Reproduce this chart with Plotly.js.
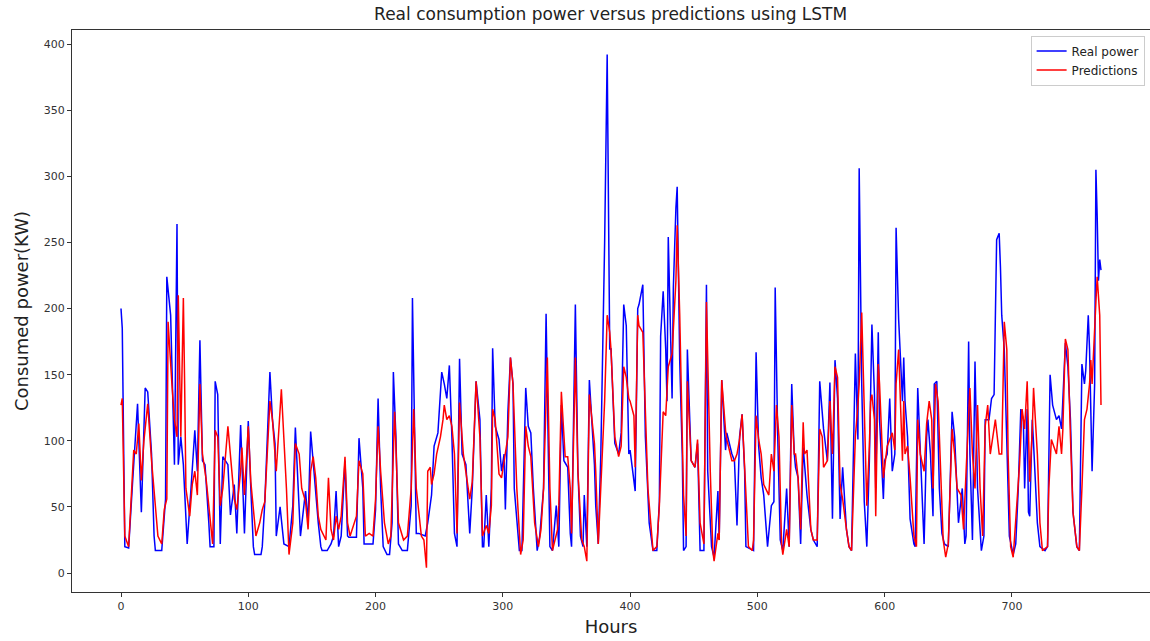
<!DOCTYPE html>
<html>
<head>
<meta charset="utf-8">
<script src="https://cdn.plot.ly/plotly-3.0.1.min.js"></script>
<style>html,body{margin:0;padding:0;background:#fff;}#chart{width:1150px;height:641px;}</style>
</head>
<body>
<div id="chart"></div>
<script>
// Hours (x) and values
const realHours = [0,1,3,6,9,11,13,16,19,21,24,26,27,32,34,35,36,39,42,44,45,47,49,52,55,58,60,62,64,66,69,70,73,74,76,78,80,84,86,89,91,94,97,100,102,104,105,110,111,113,117,119,121,122,125,128,132,135,137,140,141,145,147,149,151,153,155,157,158,162,165,167,169,171,173,176,178,179,185,187,190,191,198,200,202,204,206,209,211,213,214,216,218,221,225,228,229,232,234,239,241,244,246,249,252,254,256,258,260,262,264,266,268,271,274,276,279,282,284,285,287,289,291,292,294,297,299,301,302,304,306,308,309,313,315,318,320,322,324,327,329,332,334,336,337,339,342,344,346,348,351,353,354,357,359,361,363,364,366,368,372,373,375,377,380,382,384,385,388,391,393,395,397,399,400,404,406,407,408,410,412,415,418,421,423,424,426,428,429,430,433,434,436,437,439,441,442,444,445,448,451,453,455,458,460,461,464,466,469,470,472,475,476,480,482,484,486,488,490,491,497,499,501,503,505,508,511,513,514,516,518,520,523,525,527,529,530,532,534,536,539,542,544,547,549,551,552,555,557,559,561,563,565,567,570,572,574,577,579,580,582,584,586,588,589,590,592,593,595,596,599,600,602,604,606,608,609,611,614,615,616,618,620,623,624,626,628,631,633,634,636,638,639,641,643,645,647,650,651,653,655,656,658,661,663,664,666,667,669,671,673,676,678,679,682,684,686,688,690,691,692,694,696,698,701,703,705,707,709,710,712,713,714,716,717,720,722,726,728,730,732,735,737,739,742,744,746,748,751,753,755,757,758,760,761,763,765,766,767,768,769,770];
const realPower = [200,185,20,19,67,95,128,46,140,137,90,28,17,17,45,56,224,195,82,264,82,103,82,22,64,108,77,176,85,82,38,20,20,145,135,22,88,82,44,67,30,112,30,115,64,20,14,14,20,54,152,116,98,28,50,22,20,51,110,56,28,62,38,107,82,64,38,20,17,17,22,28,62,20,28,85,28,27,27,102,64,22,22,48,132,64,20,14,14,38,152,103,22,17,17,51,208,30,30,28,38,59,96,106,152,143,132,157,103,30,20,162,90,82,30,64,145,116,20,20,59,20,64,170,111,101,77,90,48,122,163,143,64,17,17,140,111,106,64,17,28,64,196,77,20,17,51,20,127,85,80,30,20,203,77,28,20,59,20,146,82,51,22,90,250,392,169,170,98,90,106,203,187,90,93,62,200,203,208,218,103,38,17,17,54,179,213,169,130,254,132,216,276,292,160,90,17,20,169,85,80,98,17,17,218,77,20,12,62,25,146,93,106,90,85,36,103,120,77,20,17,167,96,72,59,20,51,54,216,103,25,17,64,20,143,90,80,72,22,95,59,33,25,20,145,124,109,85,144,41,161,132,41,80,33,20,17,166,101,306,143,54,20,85,148,188,135,64,182,116,56,85,90,132,77,90,261,192,130,163,130,103,41,22,20,140,93,22,103,116,90,43,143,145,64,30,22,20,51,122,103,77,38,64,22,28,175,90,25,160,64,17,28,116,116,132,135,252,257,231,195,169,90,28,14,22,64,124,116,64,124,46,43,116,98,38,20,17,20,150,127,116,119,109,174,156,116,46,20,17,158,143,153,195,169,77,143,305,270,221,237,229];

const predHours = [0,1,3,6,10,12,14,16,18,21,24,26,27,29,32,34,36,37,40,42,44,45,47,49,50,51,54,56,58,60,62,64,67,70,72,74,76,78,80,84,86,89,91,94,95,97,100,102,106,109,111,113,117,119,122,126,130,132,135,137,140,142,145,147,149,151,153,155,157,161,163,165,167,169,171,173,176,178,180,185,187,190,192,195,198,200,202,204,207,210,212,215,216,218,222,225,228,230,232,236,238,240,241,243,244,245,246,248,251,253,254,256,258,260,262,264,266,269,271,274,276,279,282,284,287,289,291,292,294,297,299,301,302,304,306,308,311,314,316,318,320,322,325,328,330,332,335,337,339,343,344,346,349,351,353,354,357,359,362,364,366,368,372,373,375,378,380,382,384,385,388,391,393,395,397,399,400,403,404,406,407,410,412,414,418,421,423,425,426,428,429,430,433,434,436,437,439,441,442,444,445,448,451,453,455,458,460,463,465,466,469,470,472,475,476,480,482,484,486,488,490,493,496,497,499,501,503,505,509,511,513,515,517,519,520,523,525,527,529,530,532,534,536,537,539,542,544,547,549,551,552,555,557,559,561,563,565,567,570,572,574,577,579,580,582,585,586,588,589,590,592,593,595,596,599,602,604,606,608,609,611,614,615,616,618,620,623,625,626,628,631,633,635,637,638,640,642,645,646,648,650,651,653,655,657,660,662,664,666,667,669,671,673,675,677,679,681,683,685,687,690,692,694,696,697,699,701,703,706,708,710,712,714,716,717,720,722,724,728,729,731,735,737,739,740,742,744,746,748,751,753,755,757,759,761,762,763,766,767,769,770];
const predPower = [127,132,28,20,93,90,113,70,100,128,85,64,54,28,22,48,56,190,143,116,103,210,103,208,143,64,43,67,77,59,143,90,70,38,22,108,103,51,64,111,90,56,48,77,95,59,111,69,28,38,48,54,130,116,77,139,64,14,38,98,90,64,54,33,77,88,72,43,33,25,72,33,25,43,33,43,88,38,28,43,85,75,28,30,28,56,111,77,38,22,28,122,96,38,25,28,64,124,64,28,25,4,77,80,67,72,75,90,103,116,127,116,119,111,90,30,129,90,75,56,69,145,103,28,36,30,51,124,116,75,72,85,90,103,163,143,64,14,25,111,96,88,38,20,33,64,163,64,17,33,51,137,88,88,64,30,163,77,25,20,9,135,98,77,22,90,130,195,182,169,103,88,96,156,148,132,130,119,80,195,187,182,116,64,17,20,51,108,122,119,143,156,166,187,221,263,195,103,59,28,145,85,80,101,38,22,205,77,17,9,30,25,146,108,101,85,85,90,101,120,77,20,17,25,119,101,90,67,59,90,77,127,103,22,14,33,20,127,90,90,72,33,114,90,93,33,25,25,109,103,80,85,130,90,156,148,67,56,33,20,17,103,127,143,197,90,51,96,130,135,116,43,158,143,72,96,101,106,93,143,169,85,130,90,96,72,28,20,116,90,77,113,130,116,64,143,130,51,25,12,22,51,109,90,64,59,33,77,116,140,90,64,127,64,28,111,127,90,103,116,90,90,190,169,90,20,12,38,82,124,109,145,69,108,140,90,38,17,20,64,101,90,111,90,108,177,169,103,46,20,17,64,116,124,143,161,143,205,224,195,127];

const xTicks = [0,100,200,300,400,500,600,700];
const yTicks = [0,50,100,150,200,250,300,350,400];

const traces = [
  {x: realHours, y: realPower, type: 'scatter', mode: 'lines', name: 'Real power',
   line: {color: '#0000ff', width: 1.5}},
  {x: predHours, y: predPower, type: 'scatter', mode: 'lines', name: 'Predictions',
   line: {color: '#ff0000', width: 1.5}}
];

const axisCommon = {
  showline: true, mirror: true, linecolor: '#333', linewidth: 1,
  ticks: 'outside', ticklen: 4, tickcolor: '#333', tickwidth: 1,
  showgrid: false, zeroline: false,
  tickfont: {family: 'DejaVu Sans', size: 11, color: '#333'}
};

const layout = {
  width: 1150, height: 641,
  margin: {l: 72, r: 0, t: 30, b: 49},
  paper_bgcolor: '#fff', plot_bgcolor: '#fff',
  title: {text: 'Real consumption power versus predictions using LSTM',
          font: {family: 'DejaVu Sans', size: 17, color: '#222'},
          x: 0.531, xanchor: 'center', y: 0.978, yanchor: 'middle'},
  xaxis: Object.assign({}, axisCommon, {
    range: [-38.5, 808.5], tickmode: 'array', tickvals: xTicks,
    title: {text: 'Hours', font: {family: 'DejaVu Sans', size: 18, color: '#222'}, standoff: 8}
  }),
  yaxis: Object.assign({}, axisCommon, {
    range: [-14.3, 410.6], tickmode: 'array', tickvals: yTicks,
    title: {text: 'Consumed power(KW)', font: {family: 'DejaVu Sans', size: 18, color: '#222'}, standoff: 10}
  }),
  legend: {x: 0.995, xanchor: 'right', y: 0.99, yanchor: 'top',
           bgcolor: '#fff', bordercolor: '#ccc', borderwidth: 1,
           font: {family: 'DejaVu Sans', size: 12, color: '#222'}},
  showlegend: true
};

Plotly.newPlot('chart', traces, layout, {displayModeBar: false, staticPlot: true});
</script>
</body>
</html>
